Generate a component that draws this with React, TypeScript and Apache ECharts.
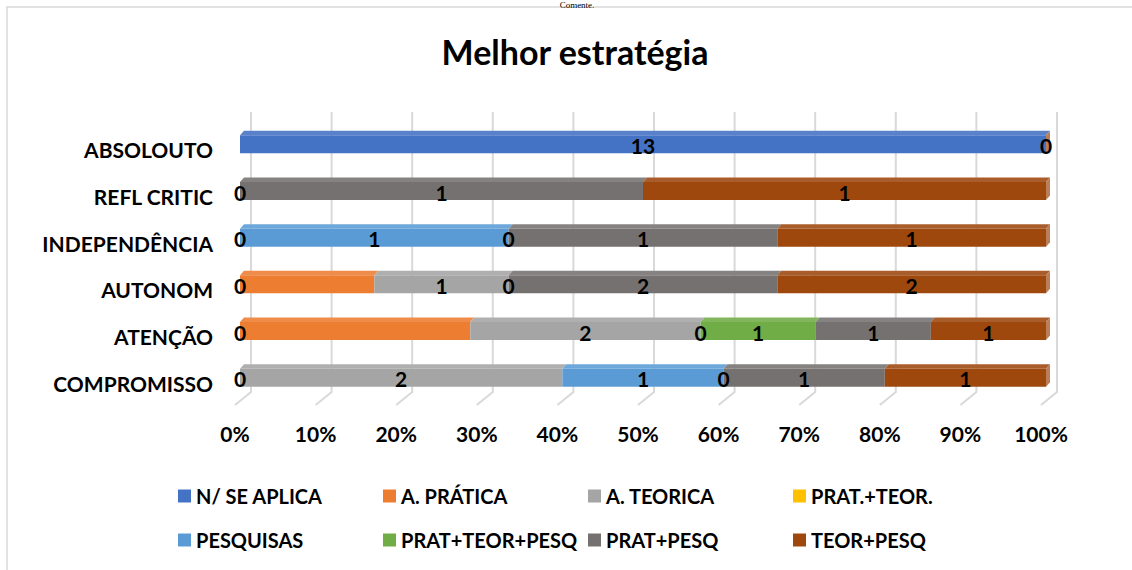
import React, { useEffect, useRef } from 'react';
import * as echarts from 'echarts';

// ---- data ----
const categories = ['ABSOLOUTO', 'REFL CRITIC', 'INDEPENDÊNCIA', 'AUTONOM', 'ATENÇÃO', 'COMPROMISSO'];
const seriesNames = ['N/ SE APLICA', 'A. PRÁTICA', 'A. TEORICA', 'PRAT.+TEOR.', 'PESQUISAS', 'PRAT+TEOR+PESQ', 'PRAT+PESQ', 'TEOR+PESQ'];
const nSeAplica = [13, 0, 0, 0, 0, 0];
const aPratica = [null, null, null, 1, 2, null];
const aTeorica = [null, null, null, 1, 2, 2];
const pratTeor = [null, null, null, null, 0, null];
const pesquisas = [null, null, 1, null, null, 1];
const pratTeorPesq = [null, null, 0, 0, 1, 0];
const pratPesq = [null, 1, 1, 2, 1, 1];
const teorPesq = [0, 1, 1, 2, 1, 1];
const hiddenLabelSeries = ['A. PRÁTICA'];
const xTicks = [0, 10, 20, 30, 40, 50, 60, 70, 80, 90, 100];
const colors = ['#4472C4', '#ED7D31', '#A5A5A5', '#FFC000', '#5B9BD5', '#70AD47', '#767171', '#9E480E'];

const FONT = 'Lato, "Open Sans", sans-serif';
const FACE = 18;
const DX = 4;
const DY = 4.5;
const LEGEND_COLS = [173, 378, 583, 788];
const LEGEND_ROWS = [481, 525];

export default function App() {
  const ref = useRef<HTMLDivElement>(null);
  useEffect(() => {
    document.body.style.margin = '0';
    const chart = echarts.init(ref.current as HTMLDivElement, null, { renderer: 'svg' });
    const seriesValues: (number | null)[][] = [nSeAplica, aPratica, aTeorica, pratTeor, pesquisas, pratTeorPesq, pratPesq, teorPesq];
    const totals = categories.map((_, r) => seriesValues.reduce((s, arr) => s + (arr[r] ?? 0), 0));
    const cum = categories.map(() => 0);
    const last = seriesNames.length - 1;

    const barSeries = seriesNames.map((name, si) => {
      const data: number[][] = [];
      seriesValues[si].forEach((v, r) => {
        if (v === null || v === undefined) return;
        const start = (cum[r] / totals[r]) * 100;
        cum[r] += v;
        const end = (cum[r] / totals[r]) * 100;
        data.push([start, end, r, v]);
      });
      const c = colors[si];
      const top = echarts.color.lift(c, 0.12);
      const side = echarts.color.lift(c, 0.3);
      const showLabel = !hiddenLabelSeries.includes(name);
      return {
        type: 'custom',
        name,
        coordinateSystem: 'cartesian2d',
        clip: false,
        itemStyle: { color: c },
        encode: { x: [0, 1], y: 2 },
        data,
        renderItem: (params: any, api: any) => {
          const s = api.value(0);
          const e = api.value(1);
          const r = api.value(2);
          const v = api.value(3);
          const a = api.coord([s, r]);
          const b = api.coord([e, r]);
          const yTop = a[1] - FACE / 2;
          const w = b[0] - a[0];
          const children: any[] = [];
          if (w > 0.01) {
            children.push({ type: 'rect', shape: { x: a[0], y: yTop, width: w, height: FACE }, style: { fill: c } });
            children.push({
              type: 'polygon',
              shape: { points: [[a[0], yTop], [a[0] + DX, yTop - DY], [b[0] + DX, yTop - DY], [b[0], yTop]] },
              style: { fill: top },
            });
          }
          if (si === last) {
            children.push({
              type: 'polygon',
              shape: { points: [[b[0], yTop], [b[0] + DX, yTop - DY], [b[0] + DX, yTop + FACE - DY], [b[0], yTop + FACE]] },
              style: { fill: side },
            });
          }
          if (showLabel) {
            children.push({
              type: 'text',
              z2: 100,
              x: (a[0] + b[0]) / 2,
              y: a[1] + 1,
              style: { text: String(v), fill: '#000', font: `bold 21px ${FONT}`, align: 'center', verticalAlign: 'middle' },
            });
          }
          return { type: 'group', children };
        },
      };
    });

    const gridSeries = {
      type: 'custom',
      name: 'grid',
      coordinateSystem: 'cartesian2d',
      clip: false,
      silent: true,
      z: 1,
      encode: { x: 0, y: 1 },
      data: xTicks.map((t) => [t, 0]),
      renderItem: (params: any, api: any) => {
        const p = api.coord([api.value(0), 0]);
        const cs = params.coordSys;
        const x = p[0];
        const style = { stroke: '#d9d9d9', lineWidth: 2, fill: 'none' };
        return {
          type: 'polyline',
          shape: { points: [[x + 11, cs.y - 9], [x + 11, cs.y + cs.height - 9], [x - 5, cs.y + cs.height + 4]] },
          style,
        };
      },
    };

    const legendText = { fontFamily: FONT, fontWeight: 'bold', fontSize: 20, color: '#000' };
    const legends = seriesNames.map((name, i) => ({
      data: [name],
      left: LEGEND_COLS[i % 4],
      top: LEGEND_ROWS[Math.floor(i / 4)],
      icon: 'rect',
      itemWidth: 13,
      itemHeight: 13,
      itemGap: 0,
      textStyle: legendText,
    }));

    chart.setOption({
      animation: false,
      backgroundColor: '#fff',
      graphic: [
        { type: 'rect', shape: { x: 7, y: 7, width: 1150, height: 600 }, style: { fill: 'none', stroke: '#d9d9d9', lineWidth: 1.5 }, silent: true },
        { type: 'text', x: 577, y: 0, style: { text: 'Comente.', font: '9px "Liberation Serif", serif', fill: '#000', align: 'center', verticalAlign: 'top' } },
        { type: 'text', x: 575, y: 51, style: { text: 'Melhor estratégia', font: `bold 34px ${FONT}`, fill: '#000', align: 'center', verticalAlign: 'middle' } },
      ],
      grid: { left: 240, right: 86, top: 121, bottom: 169, containLabel: false },
      xAxis: {
        type: 'value',
        min: 0,
        max: 100,
        interval: 10,
        axisLine: { show: false },
        axisTick: { show: false },
        splitLine: { show: false },
        axisLabel: {
          formatter: '{value}%',
          fontFamily: FONT,
          fontWeight: 'bold',
          fontSize: 21,
          color: '#000',
          margin: 22,
          padding: [0, 10, 0, 0],
        },
      },
      yAxis: {
        type: 'category',
        inverse: true,
        data: categories,
        axisLine: { show: false },
        axisTick: { show: false },
        axisLabel: {
          margin: 27,
          formatter: (v: string) => `{c|${v}}`,
          rich: {
            c: {
              fontFamily: FONT,
              fontWeight: 'bold',
              fontSize: 21,
              color: '#000',
              padding: [11, 0, 0, 0],
            },
          },
        },
      },
      legend: legends,
      series: [gridSeries, ...barSeries],
    });
    return () => chart.dispose();
  }, []);
  return <div ref={ref} style={{ width: 1132, height: 570 }} />;
}
